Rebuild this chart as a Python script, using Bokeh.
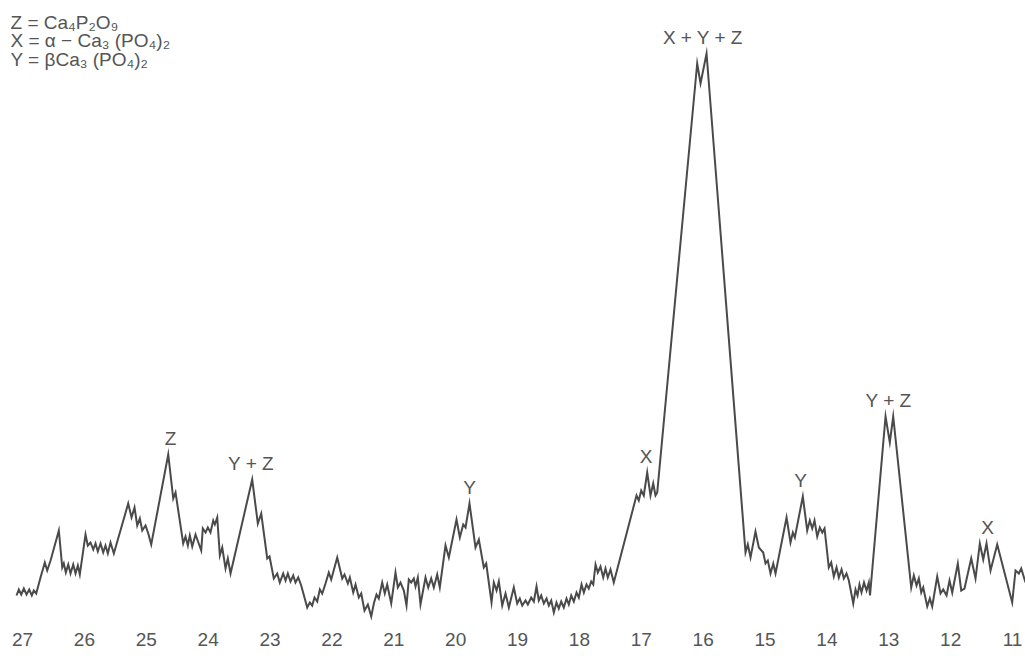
from bokeh.plotting import figure
from bokeh.models import Range1d, Label, ColumnDataSource
from bokeh.core.properties import value
from bokeh.embed import file_html
from bokeh.resources import INLINE

# ---- data: 2-theta (deg) and relative intensity ----
two_theta = [
    27.097, 27.060, 27.021, 26.979, 26.935, 26.892, 26.850, 26.817, 26.779, 26.709,
    26.640, 26.601, 26.547, 26.413, 26.358, 26.333, 26.300, 26.261, 26.224, 26.181,
    26.143, 26.106, 26.074, 25.982, 25.945, 25.901, 25.857, 25.820, 25.783, 25.739,
    25.696, 25.659, 25.621, 25.578, 25.524, 25.292, 25.238, 25.190, 25.146, 25.104,
    25.065, 25.012, 24.968, 24.920, 24.645, 24.564, 24.527, 24.403, 24.366, 24.328,
    24.296, 24.257, 24.204, 24.112, 24.086, 24.042, 24.005, 23.962, 23.918, 23.892,
    23.853, 23.811, 23.772, 23.719, 23.682, 23.638, 23.288, 23.197, 23.142, 23.045,
    23.008, 22.939, 22.884, 22.842, 22.787, 22.749, 22.712, 22.669, 22.625, 22.588,
    22.544, 22.496, 22.399, 22.357, 22.318, 22.281, 22.237, 22.195, 22.156, 22.103,
    22.050, 22.011, 21.914, 21.833, 21.796, 21.742, 21.710, 21.655, 21.618, 21.565,
    21.526, 21.473, 21.419, 21.364, 21.322, 21.279, 21.242, 21.187, 21.145, 21.106,
    21.041, 20.972, 20.934, 20.891, 20.837, 20.794, 20.757, 20.718, 20.676, 20.648,
    20.611, 20.568, 20.487, 20.443, 20.395, 20.353, 20.298, 20.256, 20.164, 20.110,
    19.986, 19.932, 19.877, 19.840, 19.776, 19.679, 19.625, 19.545, 19.506, 19.420,
    19.383, 19.339, 19.302, 19.247, 19.194, 19.140, 19.060, 19.005, 18.963, 18.924,
    18.871, 18.833, 18.779, 18.736, 18.693, 18.656, 18.617, 18.575, 18.531, 18.494,
    18.455, 18.413, 18.370, 18.333, 18.294, 18.252, 18.208, 18.171, 18.132, 18.090,
    18.046, 18.009, 17.965, 17.928, 17.885, 17.848, 17.809, 17.776, 17.739, 17.702,
    17.659, 17.615, 17.578, 17.541, 17.497, 17.444, 17.077, 17.040, 17.001, 16.959,
    16.904, 16.851, 16.807, 16.770, 16.742, 16.096, 16.042, 15.945, 15.315, 15.278,
    15.234, 15.154, 15.100, 15.029, 14.992, 14.955, 14.911, 14.867, 14.830, 14.652,
    14.588, 14.550, 14.518, 14.389, 14.318, 14.276, 14.237, 14.200, 14.156, 14.114,
    14.075, 14.038, 13.969, 13.930, 13.888, 13.844, 13.807, 13.763, 13.726, 13.683,
    13.645, 13.574, 13.537, 13.505, 13.473, 13.440, 13.400, 13.359, 13.322, 13.303,
    13.052, 12.983, 12.928, 12.637, 12.595, 12.551, 12.514, 12.475, 12.443, 12.378,
    12.336, 12.298, 12.217, 12.163, 12.120, 12.066, 12.018, 11.974, 11.884, 11.829,
    11.776, 11.722, 11.667, 11.598, 11.528, 11.473, 11.420, 11.355, 11.247, 11.005,
    10.951, 10.898, 10.859, 10.790,
]

intensity = [
    5.0, 6.2, 5.2, 6.4, 5.2, 6.2, 5.0, 6.0, 5.4, 8.6,
    11.6, 10.0, 12.0, 18.0, 10.6, 11.4, 9.6, 11.2, 9.4, 11.2,
    9.4, 11.0, 9.2, 17.2, 15.0, 15.6, 14.2, 15.4, 13.8, 15.4,
    13.6, 15.0, 13.4, 15.6, 13.4, 23.4, 20.6, 22.6, 19.0, 20.4,
    18.0, 19.0, 17.4, 15.2, 33.2, 24.4, 25.6, 15.4, 16.8, 15.0,
    17.0, 14.8, 17.2, 14.0, 18.4, 17.6, 18.6, 17.6, 20.0, 19.2,
    20.6, 13.0, 14.6, 10.4, 12.4, 9.4, 28.2, 19.4, 21.4, 12.4,
    12.8, 8.4, 9.4, 7.6, 9.4, 8.0, 9.4, 7.8, 9.0, 7.6,
    8.6, 7.0, 2.6, 3.6, 3.0, 4.6, 3.8, 6.2, 5.4, 7.4,
    9.6, 8.2, 12.6, 8.4, 9.2, 7.4, 8.6, 5.6, 7.2, 4.6,
    5.4, 2.0, 3.2, 0.8, 3.4, 5.2, 4.4, 7.6, 5.4, 7.2,
    3.4, 9.6, 6.6, 7.6, 6.0, 3.0, 8.2, 7.6, 8.4, 6.8,
    8.6, 3.2, 8.6, 6.6, 8.4, 6.6, 9.2, 6.6, 15.0, 12.6,
    20.2, 16.6, 19.2, 18.6, 23.4, 14.6, 16.2, 10.6, 11.4, 3.6,
    7.6, 6.0, 7.8, 3.0, 5.4, 2.6, 6.6, 3.4, 4.4, 3.0,
    4.0, 3.2, 4.6, 3.8, 6.8, 4.0, 5.0, 3.4, 4.4, 3.0,
    4.0, 1.6, 3.6, 2.4, 3.8, 2.6, 4.4, 3.2, 5.0, 3.8,
    5.6, 4.6, 7.2, 5.6, 7.2, 6.4, 7.8, 7.2, 11.2, 9.6,
    10.8, 8.6, 10.4, 8.6, 10.2, 7.6, 25.0, 24.0, 26.0, 25.0,
    29.6, 25.0, 27.4, 25.0, 25.6, 111.4, 107.4, 113.4, 13.6, 15.2,
    12.6, 17.8, 14.6, 13.6, 11.4, 12.0, 9.4, 11.4, 9.4, 20.6,
    15.6, 17.6, 16.6, 24.8, 18.0, 20.0, 18.4, 20.0, 16.8, 18.6,
    17.6, 18.4, 10.6, 11.6, 8.8, 10.6, 8.6, 10.2, 8.4, 9.4,
    8.0, 3.4, 6.2, 5.0, 7.2, 5.6, 7.6, 6.0, 7.6, 5.0,
    40.8, 35.6, 40.8, 6.6, 9.0, 7.0, 8.4, 5.6, 6.6, 2.8,
    4.4, 2.8, 8.8, 5.4, 6.2, 5.0, 8.0, 5.6, 11.4, 6.0,
    6.4, 9.4, 12.4, 8.4, 15.4, 12.2, 15.4, 10.0, 15.2, 3.6,
    10.0, 9.4, 10.4, 7.6,
]

# peak annotations
peak_labels = ["Z", "Y + Z", "Y", "X", "X + Y + Z", "Y", "Y + Z", "X"]
peak_theta = [24.608, 23.307, 19.776, 16.923, 16.002, 14.426, 13.004, 11.404]
peak_intensity = [33.2, 28.2, 23.4, 29.6, 113.4, 24.8, 40.8, 15.4]

# axis tick labels (2-theta, reversed)
tick_values = [27, 26, 25, 24, 23, 22, 21, 20, 19, 18, 17, 16, 15, 14, 13, 12, 11]
tick_labels = [str(v) for v in tick_values]

# phase key
legend_lines = ["Z = Ca₄P₂O₉", "X = α − Ca₃ (PO₄)₂", "Y = βCa₃ (PO₄)₂"]

# ---- styling / layout ----
LINE_COLOR = "#4a4a4a"
TEXT_COLOR = "#555555"
FONT = "Liberation Sans"
TICK_LABEL_Y = -3.7      # centre of the tick-label row, data units
LABEL_GAP = 3.3          # distance of a peak label's centre above its peak, data units

p = figure(
    width=1025, height=670,
    x_range=Range1d(27.356, 10.790),
    y_range=Range1d(-10, 124),
    x_axis_location=None, y_axis_location=None,
    toolbar_location=None, output_backend="svg",
    min_border=0,
)
p.outline_line_color = None
p.xgrid.visible = False
p.ygrid.visible = False
p.background_fill_color = "white"
p.border_fill_color = "white"

p.line(two_theta, intensity, line_color=LINE_COLOR, line_width=2, line_join="miter")

ann = ColumnDataSource(dict(x=peak_theta,
                            y=[v + LABEL_GAP for v in peak_intensity],
                            t=peak_labels))
p.text(x="x", y="y", text="t", source=ann, text_align="center",
       text_baseline="middle",
       text_font=value(FONT), text_font_size="19px", text_color=TEXT_COLOR)

ticks = ColumnDataSource(dict(x=tick_values, y=[TICK_LABEL_Y] * len(tick_values), t=tick_labels))
p.text(x="x", y="y", text="t", source=ticks, text_align="center",
       text_baseline="middle",
       text_font=value(FONT), text_font_size="19px", text_color=TEXT_COLOR)

for i, line in enumerate(legend_lines):
    p.add_layout(Label(x=10, y=648.5 - i * 18.5, x_units="screen", y_units="screen",
                       text=line, text_font=FONT, text_font_size="19px",
                       text_color=TEXT_COLOR, text_baseline="middle"))

open("out.html", "w").write(file_html(p, INLINE))
